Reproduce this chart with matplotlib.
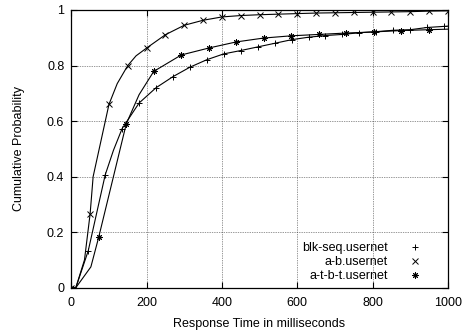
import numpy as np
import matplotlib
matplotlib.use('Agg')
import matplotlib.pyplot as plt
from matplotlib.lines import Line2D

plt.rcParams['font.family'] = ['Liberation Sans', 'DejaVu Sans']

# marker points
blk_x = [0, 45, 90, 135, 180, 225, 270, 315, 360, 405, 450, 495, 540,
         585, 630, 675, 720, 765, 810, 855, 900, 945, 990]
blk_y = [0, 0.133, 0.406, 0.573, 0.665, 0.720, 0.760, 0.794, 0.821, 0.842,
         0.854, 0.867, 0.880, 0.893, 0.902, 0.908, 0.912, 0.918, 0.922,
         0.927, 0.929, 0.937, 0.941]

ab_x = [0, 50, 100, 150, 200, 250, 300, 350, 400, 450, 500, 550, 600,
        650, 700, 750, 800, 850, 900, 950, 1000]
ab_y = [0, 0.266, 0.660, 0.800, 0.863, 0.911, 0.945, 0.963, 0.975, 0.980,
        0.983, 0.985, 0.987, 0.989, 0.990, 0.991, 0.992, 0.993, 0.994,
        0.996, 0.997]

atbt_x = [0, 73, 146, 219, 292, 365, 438, 511, 584, 657, 730, 803, 876, 949]
atbt_y = [0, 0.183, 0.590, 0.779, 0.838, 0.863, 0.885, 0.899, 0.907,
          0.912, 0.917, 0.921, 0.926, 0.929]

# extra points where the curves bend between markers
blk_knee_x = [12, 112, 1000]
blk_knee_y = [0, 0.495, 0.942]
ab_knee_x = [12, 35, 58, 122, 172]
ab_knee_y = [0, 0.10, 0.40, 0.735, 0.835]
atbt_knee_x = [12, 52, 180, 1000]
atbt_knee_y = [0, 0.075, 0.695, 0.931]

labels = ['blk-seq.usernet', 'a-b.usernet', 'a-t-b-t.usernet']
x_ticks = [0, 200, 400, 600, 800, 1000]
y_ticks = [0, 0.2, 0.4, 0.6, 0.8, 1]
y_tick_labels = ['0', '0.2', '0.4', '0.6', '0.8', '1']


def merge(mx, my, kx, ky):
    x = np.array(list(mx) + list(kx), dtype=float)
    y = np.array(list(my) + list(ky), dtype=float)
    order = np.argsort(x)
    return x[order], y[order]


fig = plt.figure(figsize=(4.66, 3.32), dpi=100)
ax = fig.add_axes([0.153, 0.1334, 0.808, 0.8365])

asterisk = (8, 2, 0)
series = [
    (blk_x, blk_y, blk_knee_x, blk_knee_y, '+', 5),
    (ab_x, ab_y, ab_knee_x, ab_knee_y, 'x', 4),
    (atbt_x, atbt_y, atbt_knee_x, atbt_knee_y, asterisk, 4.5),
]

handles = []
for (mx, my, kx, ky, m, ms), lab in zip(series, labels):
    lx, ly = merge(mx, my, kx, ky)
    ax.plot(lx, ly, color='black', lw=0.8, zorder=3)
    ax.plot(mx, my, linestyle='none', marker=m, ms=ms, mew=0.7,
            color='black', zorder=4)
    handles.append(Line2D([], [], linestyle='none', marker=m, ms=ms,
                          mew=0.7, color='black'))

ax.set_xlim(0, 1000)
ax.set_ylim(0, 1)
ax.set_xticks(x_ticks)
ax.set_yticks(y_ticks)
ax.set_yticklabels(y_tick_labels)
ax.tick_params(direction='in', length=4, width=0.8, top=True, right=True,
               labelsize=9, pad=5)
ax.tick_params(axis='x', pad=7)
ax.grid(True, color='#333333', lw=0.5, linestyle=(0, (1, 1.5)))
for s in ax.spines.values():
    s.set_linewidth(0.9)

ax.set_xlabel('Response Time in milliseconds', fontsize=9, labelpad=6)
ax.set_ylabel('Cumulative Probability', fontsize=9, labelpad=16)

leg = ax.legend(handles, labels, loc='lower right', markerfirst=False,
                frameon=False, fontsize=9, handlelength=1.2,
                handletextpad=1.6, labelspacing=0.15, borderpad=0,
                borderaxespad=0, bbox_to_anchor=(0.933, 0.02))
for t in leg.get_texts():
    t.set_ha('right')
leg._legend_box.align = 'right'

fig.savefig('out.png', dpi=100)
